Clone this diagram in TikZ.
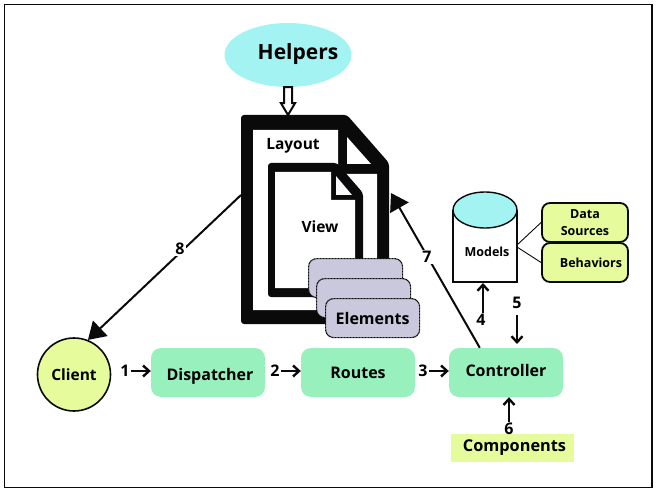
\documentclass[tikz,border=0pt]{standalone}
\usepackage{fontspec}
\setmainfont{Open Sans}[BoldFont={Open Sans Bold}]
\usetikzlibrary{arrows.meta,calc,shapes.geometric}
\definecolor{mint}{HTML}{98F1BD}
\definecolor{lime}{HTML}{E5FB9C}
\definecolor{aqua}{HTML}{A4F3F3}
\definecolor{lilac}{HTML}{C9C8DC}
\definecolor{ink}{HTML}{0A0A0A}
\tikzset{
  proc/.style={fill=mint,rounded corners=10pt,minimum width=114pt,minimum height=49pt,inner sep=0pt,text height=11pt,text depth=3pt,font=\fontsize{16}{18}\selectfont\bfseries},
  side/.style={draw=ink,line width=1.8pt,fill=lime,rounded corners=8pt,minimum width=86pt,minimum height=39pt,inner sep=0pt,align=center,font=\fontsize{12.5}{16}\selectfont\bfseries},
  stack/.style={draw=ink,line width=1.2pt,dash pattern=on 1pt off .5pt,fill=lilac,rounded corners=8pt,minimum width=94pt,minimum height=39pt,inner sep=0pt},
  num/.style={inner sep=1pt,font=\fontsize{16}{18}\selectfont\bfseries},
  seq/.style={-{Straight Barb[length=6pt,width=11pt]},line width=2.4pt,draw=ink},
  big/.style={-{Triangle[length=17pt,width=21pt]},line width=2pt,draw=ink},
  lbl/.style={inner sep=0pt,font=\fontsize{15.5}{18}\selectfont\bfseries},
  thin link/.style={line width=.9pt,draw=ink}
}
\begin{document}
\begin{tikzpicture}[x=1pt,y=-1pt]
\useasboundingbox (0,0) rectangle (659,492);
\fill[white] (0,0) rectangle (659,492);
\draw[line width=1.2pt,draw=ink] (4.5,4.5) rectangle (652,487.5);

% Helpers
\node[ellipse,fill=aqua,minimum width=127pt,minimum height=64pt,inner sep=0pt] (helpers) at (288,55) {};
\node[inner sep=0pt,font=\fontsize{21}{24}\selectfont\bfseries] (helpersText) at (298,54) {Helpers};

% Layout document
\fill[ink,rounded corners=3pt] (241,115) -- (347,115) -- (389,163) -- (389,324) -- (241,324) -- cycle;
\fill[white] (253,130) -- (338,130) -- (338,174) -- (377,174) -- (377,310) -- (253,310) -- cycle;
\fill[white] (347,137) -- (371,164) -- (347,164) -- cycle;
\coordinate (layoutTop) at (288,115);
\coordinate (layoutLeft) at (241,195);
\coordinate (layoutRight) at (391,193);
\node[lbl] (layoutText) at (293,146) {Layout};

% View document
\fill[ink,rounded corners=3pt] (268,163) -- (337,163) -- (363,193) -- (363,297) -- (268,297) -- cycle;
\fill[white] (275,172) -- (331,172) -- (331,200) -- (355,200) -- (355,288) -- (275,288) -- cycle;
\fill[white!90!lilac] (336,176) -- (352,195) -- (336,195) -- cycle;
\node[lbl] (viewText) at (320,227) {View};

% Elements
\node[stack,anchor=north west] (e1) at (308,258) {};
\node[stack,anchor=north west] (e2) at (316,278) {};
\node[stack,anchor=north west] (e3) at (325,298) {\fontsize{16}{18}\selectfont\bfseries\raisebox{-2pt}{Elements}};

% Hollow arrow from Helpers to Layout
\draw[line width=2pt,draw=ink,fill=white,line join=miter]
  ($(helpers.south)+(-4,0)$) -- ++(0,16) -- ++(-3,0) -- (layoutTop) -- ($(helpers.south)+(7,16)$) -- ++(-3,0) -- ($(helpers.south)+(4,0)$) -- cycle;

% Bottom row
\node[circle,draw=ink,line width=1.6pt,fill=lime,minimum size=73pt,inner sep=0pt,font=\fontsize{15.5}{18}\selectfont\bfseries] (client) at (74,374.5) {Client};
\node[proc] (disp) at (208,372.5) {\hspace{4pt}\raisebox{-3.5pt}{Dispatcher}};
\node[proc] (routes) at (358,372.5) {\raisebox{-2pt}{Routes}};
\node[proc] (ctrl) at (506,372.5) {Controller};
\node[fill=lime,minimum width=123pt,minimum height=28pt,inner sep=0pt,font=\fontsize{16.3}{18}\selectfont\bfseries] (comp) at (512.5,448) {\hspace{4pt}Components};

% Models
\fill[white] (453,210) rectangle (517,282);
\draw[line width=1.2pt,draw=ink] (453,210) -- (453,282) -- (517,282) -- (517,210);
\draw[line width=1.4pt,draw=ink,fill=aqua] (485,210) ellipse [x radius=32,y radius=18];
\node[inner sep=0pt,font=\fontsize{12.5}{14}\selectfont\bfseries] (models) at (487,252) {Models};
\coordinate (modelsA) at (517,245);
\coordinate (modelsB) at (517,247);
\coordinate (modelsBottom) at (483,283);
\node[side] (ds) at (585,222.5) {\raisebox{1.5pt}{Data}\\[-1pt]Sources};
\node[side] (beh) at (585,262.5) {\hspace{12pt}Behaviors};
\draw[thin link] (modelsA) -- (ds.west);
\draw[thin link] (modelsB) -- (beh.west);

% Numbered arrows
\node[num] (n1) at (125,371) {1};
\node[num] (n2) at (275,371) {2};
\node[num] (n3) at (423,371) {3};
\draw[seq] (n1.east) -- (n1.east -| disp.west);
\draw[seq] (n2.east) -- (n2.east -| routes.west);
\draw[seq] (n3.east) -- (n3.east -| ctrl.west);
\node[num] (n4) at (481,320) {4};
\draw[seq] (n4.north -| modelsBottom) -- (modelsBottom);
\node[num] (n5) at (517,303) {5};
\coordinate (ctrl5) at (517,344);
\draw[seq] ($(n5.south)+(0,5)$) -- (ctrl5);
\node[num] (n6) at (509,429) {6};
\draw[seq] (n6.north) -- (n6.north |- ctrl.south);

% 7 and 8
\draw[big] (ctrl.north west)+(31,0) -- (layoutRight);
\node[num,fill=white] (n7) at (427,257) {7};
\draw[big] (layoutLeft) -- (client.68);
\node[num,fill=white] (n8) at (180,249) {8};
\end{tikzpicture}
\end{document}
